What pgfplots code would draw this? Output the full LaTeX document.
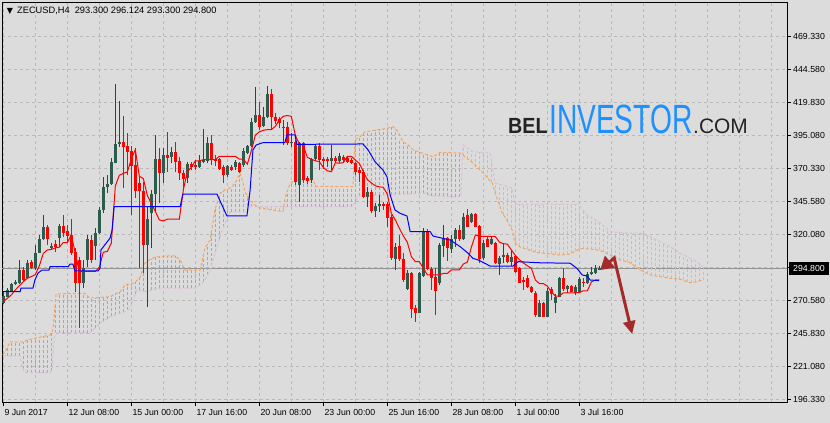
\documentclass[border=0pt]{standalone}
\usepackage{pgfplots}
\pgfplotsset{compat=1.18}
\usepackage{pgfplotstable}
\usetikzlibrary{arrows.meta}
\usepackage{graphicx}
\usepackage{fontspec}
\setmainfont{Liberation Sans}
\newfontfamily\dejavu{DejaVu Sans}
\definecolor{bg}{RGB}{220,220,220}
\definecolor{gridc}{RGB}{186,186,186}
\definecolor{bull}{RGB}{45,92,78}
\definecolor{bullwick}{RGB}{40,70,68}
\definecolor{senA}{RGB}{244,164,96}
\definecolor{hatchAc}{RGB}{240,150,75}
\definecolor{senB}{RGB}{216,191,216}
\definecolor{hatchBc}{RGB}{210,180,212}
\definecolor{arrowc}{RGB}{165,42,42}
\definecolor{logoblue}{RGB}{30,144,255}
\definecolor{logodark}{RGB}{35,35,35}

\pgfplotstableread{
i o h l c
0 268.8 276.9 267.8 273.9
1 273.3 279.9 273.1 278.4
2 277.8 283.9 276.9 282.9
3 282.7 285.9 282.1 284.6
4 283.9 301.0 282.9 293.4
6 287.2 301.0 286.4 298.9
8 295.2 312.3 293.4 306.4
9 306.4 319.8 306.0 316.5
10 316.5 334.8 316.0 325.6
12 309.8 313.5 308.5 311.7
14 317.7 328.1 311.0 326.8
20 283.9 301.0 279.9 294.7
21 301.0 319.8 295.9 316.5
23 311.5 324.8 301.0 321.1
24 321.1 341.1 320.5 338.6
25 338.6 363.7 336.1 355.7
26 355.7 364.9 351.2 358.2
27 358.2 377.5 357.4 374.9
28 374.2 433.4 373.7 388.3
29 388.3 420.9 386.2 389.8
36 312.3 341.1 265.8 331.8
37 336.6 353.6 309.8 350.6
38 350.6 395.0 337.3 377.0
40 366.2 385.0 358.7 380.0
42 378.3 386.2 373.7 382.5
46 362.5 374.9 358.7 373.2
49 370.7 380.0 370.0 375.5
50 375.0 399.3 373.7 376.2
51 375.5 393.8 373.7 389.3
56 364.9 372.5 363.7 371.7
58 370.7 376.2 368.7 374.9
60 372.5 385.3 371.2 383.0
61 381.7 387.5 380.7 386.8
62 386.8 407.6 386.2 404.6
63 404.6 431.0 403.9 410.1
65 402.1 415.9 401.3 408.4
66 408.4 431.9 407.6 425.9
70 400.1 406.3 387.5 401.3
72 388.8 396.3 386.2 390.0
74 357.4 390.0 344.8 389.0
77 361.2 377.5 359.1 376.8
78 376.8 387.5 375.7 386.8
82 375.7 387.5 368.7 377.5
84 375.7 381.8 373.7 379.3
91 348.6 356.1 341.1 352.4
93 337.8 344.1 333.5 341.6
94 341.6 349.9 337.3 343.1
98 301.5 313.5 293.4 311.0
101 279.1 293.4 278.4 290.9
104 261.3 291.9 260.8 290.9
105 289.1 324.8 288.4 322.3
109 283.4 313.8 282.1 312.3
110 311.5 327.3 303.0 317.3
112 309.0 319.8 306.0 316.5
113 316.5 324.8 311.0 323.5
115 316.5 336.1 316.0 333.6
117 329.8 336.6 329.0 335.6
120 302.2 316.0 301.0 314.0
122 313.0 319.0 312.3 316.8
124 297.9 304.0 289.7 302.2
125 303.0 313.5 298.5 304.7
127 299.7 308.5 296.4 303.0
134 258.3 270.8 257.8 268.8
136 258.3 279.6 258.3 277.8
138 268.8 275.4 260.8 272.9
139 273.3 288.4 272.9 287.2
141 278.9 282.1 275.9 281.4
143 275.9 282.1 274.6 280.4
144 277.1 287.9 276.3 286.4
146 283.4 292.1 282.9 290.4
147 290.4 295.9 289.7 292.1
148 291.4 297.2 290.4 294.7
149 293.3 296.1 293.3 294.8
}\bulltab

\pgfplotstableread{
i o h l c
5 293.4 295.7 285.4 285.9
7 299.7 301.0 293.9 295.2
11 326.0 327.3 312.3 316.5
13 312.8 316.0 307.0 311.0
15 326.8 334.8 318.5 321.5
16 322.8 327.3 313.5 319.2
17 319.8 331.6 304.7 306.4
18 307.2 309.8 277.1 283.9
19 301.0 303.4 249.8 283.9
22 316.0 319.8 298.9 301.0
30 389.8 409.4 354.9 386.2
31 386.8 396.3 364.9 382.5
32 383.2 386.8 334.8 371.7
33 372.5 385.0 347.4 353.1
34 358.7 363.7 294.7 353.1
35 353.1 359.9 290.9 312.3
39 377.0 385.0 343.6 366.2
41 380.0 397.5 367.4 377.5
43 382.5 390.0 367.4 374.5
44 375.5 378.7 361.2 366.2
45 366.2 368.7 353.6 361.7
47 373.2 374.9 368.7 370.7
48 372.5 376.2 368.7 370.7
52 389.3 395.0 372.5 376.2
53 376.8 380.0 371.7 375.3
54 377.0 377.8 368.7 369.2
55 370.7 372.5 358.7 364.9
57 371.2 372.5 368.2 368.7
59 373.7 374.9 366.2 367.4
64 410.1 420.1 398.8 401.3
67 425.9 429.5 399.3 408.8
68 408.8 411.6 403.3 405.8
69 407.1 408.8 400.1 403.9
71 401.3 405.1 387.5 388.8
73 390.0 391.3 357.4 359.7
75 389.3 390.0 358.7 361.2
76 362.7 364.2 358.2 360.7
79 386.8 389.3 368.7 376.2
80 377.0 378.7 369.2 375.7
81 377.0 378.7 371.2 375.7
83 377.5 379.3 374.0 375.7
85 378.7 380.0 374.2 376.2
86 377.5 378.5 374.0 375.0
87 376.2 377.8 373.2 374.2
88 374.2 374.9 364.9 367.4
89 368.7 371.2 359.9 366.7
90 367.4 368.7 347.4 348.6
92 352.4 353.6 336.1 337.8
95 343.1 344.6 338.6 341.6
96 343.1 344.8 326.0 332.8
97 333.1 334.8 301.0 302.2
99 311.7 319.8 300.4 301.5
100 301.5 306.0 284.6 285.9
102 290.9 292.1 257.1 264.1
103 264.6 267.1 254.5 261.3
106 322.3 324.1 293.4 294.0
107 294.0 295.9 278.4 287.6
108 288.4 294.7 259.6 277.6
111 317.3 318.5 300.4 309.8
114 323.5 327.3 315.5 316.5
116 334.8 339.1 325.6 326.0
118 335.6 336.1 325.6 326.0
119 326.5 327.3 298.5 301.5
121 316.5 318.5 310.5 311.0
123 313.5 314.7 298.0 298.5
126 304.7 306.0 298.5 299.7
128 304.0 304.7 290.9 292.1
129 294.7 295.9 283.4 283.9
130 285.9 287.9 278.4 284.6
131 287.2 289.7 279.6 280.4
132 280.4 281.4 275.9 277.1
133 276.3 277.8 258.3 259.6
135 268.8 269.6 257.8 258.3
137 278.9 280.4 270.8 275.4
140 287.2 294.7 277.8 278.9
142 281.4 282.1 276.9 277.1
145 284.6 287.2 280.9 283.4
}\beartab

\pgfplotstableread{
i p
0 269.6
1 272.1
2 274.6
3 278.4
4 281.5
5 284.6
6 287.2
7 288.5
8 290.0
9 296.5
10 305.9
11 308.5
12 308.9
13 310.1
14 310.6
15 314.1
16 314.1
17 319.8
18 306.0
19 292.3
20 292.3
21 292.3
22 292.3
23 292.3
24 295.5
25 306.8
26 307.4
27 313.7
28 356.7
29 364.7
30 366.2
31 367.2
32 377.0
33 384.1
34 364.1
35 362.2
36 349.6
37 343.4
38 337.6
39 331.1
40 330.4
41 331.7
42 331.7
43 331.7
44 331.7
45 353.7
46 367.4
47 370.6
48 375.6
49 375.6
50 376.5
51 376.5
52 376.5
53 376.5
54 379.0
55 379.0
56 379.0
57 379.0
58 379.0
59 376.9
60 376.9
61 373.1
62 383.2
63 394.9
64 397.4
65 398.6
66 399.1
67 399.1
68 401.6
69 406.3
70 409.1
71 409.7
72 409.1
73 394.7
74 388.4
75 387.2
76 378.2
77 376.8
78 375.6
79 375.0
80 370.6
81 368.1
82 367.4
83 374.1
84 373.8
85 374.2
86 379.0
87 379.0
88 376.2
89 373.7
90 367.5
91 361.5
92 359.0
93 356.8
94 356.0
95 355.7
96 350.5
97 336.1
98 331.1
99 324.8
100 319.1
101 314.2
102 303.5
103 299.7
104 299.7
105 294.7
106 289.7
107 289.7
108 289.7
109 289.7
110 290.9
111 290.9
112 293.5
113 293.5
114 293.5
115 297.9
116 299.4
117 310.6
118 319.8
119 318.8
120 318.8
121 318.8
122 318.8
123 318.6
124 314.4
125 313.2
126 312.9
127 308.5
128 304.4
129 301.2
130 298.7
131 296.6
132 294.7
133 285.9
134 283.2
135 283.2
136 281.3
137 276.9
138 273.8
139 273.8
140 276.3
141 276.3
142 276.3
143 276.3
144 276.5
145 277.8
146 277.8
147 284.4
148 285.9
149 285.9
}\tenkan

\pgfplotstableread{
i p
-0.1 277.1
4.2 277.1
4.4 279.7
7.4 279.7
7.9 285.9
8.7 291.2
9.7 293.4
11.4 293.4
11.7 295.9
16.2 295.9
16.7 297.9
17.4 297.9
17.9 292.7
23.7 292.7
24.2 294.9
24.4 308.5
26.7 317.5
27.2 323.5
27.7 341.1
44.2 341.1
44.9 350.6
53.4 350.6
55.9 334.1
60.9 334.1
61.7 353.6
62.4 383.8
63.2 387.5
64.9 389.3
70.4 389.3
70.9 395.1
72.9 395.1
73.4 388.0
89.9 388.3
91.2 383.8
92.9 375.0
94.9 368.7
95.9 363.7
96.7 349.9
97.9 338.6
99.2 336.1
100.9 334.1
101.7 322.3
106.7 322.3
107.4 319.0
111.7 316.0
114.2 311.0
116.2 306.0
117.4 302.2
118.7 301.0
121.7 296.4
127.4 296.4
128.7 299.7
133.7 298.9
141.7 298.5
143.4 294.7
144.7 289.7
145.9 288.9
146.7 285.9
148.9 285.4
}\kijun

\pgfplotstableread{
i p
-0.1 229.4
0.4 231.9
1.7 239.4
5.4 239.4
5.9 240.7
7.9 242.0
11.7 244.5
12.4 248.3
13.2 275.4
20.4 275.9
21.2 273.3
21.7 272.3
26.7 273.3
27.9 275.4
29.2 277.1
30.4 282.1
32.9 283.9
34.2 288.2
35.4 298.5
36.7 301.5
37.9 303.0
40.4 304.0
42.9 304.0
44.2 301.0
45.4 293.4
49.2 293.4
50.4 309.8
51.7 316.0
52.9 338.6
54.2 351.2
55.4 353.6
57.2 356.1
58.4 361.2
59.2 366.2
59.9 358.9
60.4 352.4
61.7 346.1
62.9 342.4
64.2 340.1
69.9 337.3
70.4 347.4
71.7 358.7
72.9 361.2
77.4 361.2
78.2 356.1
87.4 356.1
87.9 391.3
89.2 393.8
90.4 397.5
93.4 398.8
95.9 400.1
97.4 401.3
98.7 397.5
99.9 390.0
101.2 387.5
102.4 383.8
104.9 381.3
107.4 378.7
109.2 381.9
114.2 381.5
117.4 374.0
119.9 366.5
122.2 358.9
122.9 352.1
124.7 336.3
125.9 331.1
127.2 323.5
127.9 313.7
129.2 310.7
133.4 306.6
139.2 304.7
141.7 305.5
144.2 309.6
146.7 309.2
149.2 308.1
151.7 304.7
154.2 301.0
156.7 298.9
159.2 293.4
161.7 289.7
164.2 288.4
166.7 287.2
169.2 286.4
171.7 283.9
172.9 284.4
174.9 285.9
}\senkouA

\pgfplotstableread{
i p
-0.1 228.7
4.2 228.7
4.7 221.2
5.4 216.1
11.7 216.1
12.2 218.2
12.7 240.7
12.9 246.2
21.7 246.2
22.9 249.5
24.2 253.3
26.7 258.3
30.4 262.0
31.7 264.6
33.4 278.4
35.4 277.1
39.2 279.7
47.9 279.7
49.2 282.1
50.4 285.9
51.7 293.4
52.9 306.0
54.7 323.5
56.7 337.1
60.9 337.1
61.7 341.1
87.4 341.1
88.7 349.1
105.9 351.2
106.7 349.4
112.9 348.6
114.4 348.6
114.9 387.5
116.7 383.8
117.4 382.3
121.7 381.5
122.9 358.9
127.2 355.2
127.9 343.1
143.7 343.1
145.9 334.8
149.2 328.8
151.7 322.3
156.7 321.1
159.2 321.1
161.7 318.5
164.2 314.7
166.7 311.0
169.2 306.0
171.7 302.2
173.4 299.7
174.9 295.9
}\senkouB

\pgfplotstableread{
i lo hi
0 228.7 230.4
1 228.7 235.4
2 228.7 239.4
3 228.7 239.4
4 228.7 239.4
5 219.0 239.4
6 216.1 240.8
7 216.1 241.4
8 216.1 242.1
9 216.1 242.7
10 216.1 243.4
11 216.1 244.0
12 217.4 246.1
13 246.2 268.6
14 246.2 275.5
15 246.2 275.6
16 246.2 275.6
17 246.2 275.7
18 246.2 275.8
19 246.2 275.8
20 246.2 275.9
21 246.2 274.0
22 247.0 272.4
23 249.8 272.6
24 252.7 272.8
25 254.9 273.0
26 256.9 273.2
27 258.5 273.8
28 259.7 275.5
29 260.6 276.8
30 261.6 280.4
31 263.2 282.5
32 267.1 283.2
33 275.2 284.2
34 278.0 287.5
35 277.4 295.1
36 277.3 299.9
37 278.0 301.6
38 278.6 303.0
39 279.6 303.4
40 279.7 303.8
41 279.7 304.0
42 279.7 304.0
43 279.7 304.0
44 279.7 301.5
45 279.7 295.9
46 279.7 293.4
47 279.7 293.4
48 280.0 293.4
49 281.7 293.4
50 284.6 304.3
51 289.9 312.7
52 296.5 321.7
53 306.9 339.6
54 316.7 349.3
55 325.5 352.8
56 332.3 354.4
57 337.1 355.8
58 337.1 359.5
59 337.1 364.9
60 337.1 351.6
61 337.6 349.5
62 341.1 345.2
63 341.1 342.2
71 341.1 352.6
72 341.1 359.3
73 341.1 361.2
74 341.1 361.2
75 341.1 361.2
76 341.1 361.2
77 341.1 361.2
78 341.1 357.4
79 341.1 356.1
80 341.1 356.1
81 341.1 356.1
82 341.1 356.1
83 341.1 356.1
84 341.1 356.1
85 341.1 356.1
86 341.1 356.1
87 341.1 356.1
88 344.8 391.5
89 349.1 393.4
90 349.2 396.3
91 349.4 397.8
92 349.5 398.2
93 349.6 398.6
94 349.7 399.1
95 349.9 399.6
96 350.0 400.2
97 350.1 401.0
98 350.2 399.5
99 350.4 390.6
100 350.5 389.8
101 350.6 387.9
102 350.7 384.5
103 350.9 383.2
104 351.0 382.2
105 351.1 381.2
106 349.6 380.0
107 349.2 378.9
108 349.1 379.8
109 349.0 381.5
110 348.9 381.8
111 348.8 381.8
112 348.7 381.7
113 348.6 381.6
114 348.6 381.5
}\hatchA

\pgfplotstableread{
i lo hi
64 340.2 341.1
65 339.7 341.1
66 339.2 341.1
67 338.7 341.1
68 338.2 341.1
69 337.7 341.1
70 339.3 341.1
115 379.6 387.3
116 377.3 385.3
117 374.9 383.1
118 371.2 382.2
119 369.2 382.0
120 366.2 381.8
121 362.9 381.6
122 359.6 374.8
123 351.2 358.8
124 342.5 358.0
125 334.9 357.1
126 330.5 356.2
127 324.7 355.3
128 313.5 343.1
129 311.2 343.1
130 309.9 343.1
131 308.9 343.1
132 308.0 343.1
133 307.0 343.1
134 306.4 343.1
135 306.1 343.1
136 305.7 343.1
137 305.4 343.1
138 305.1 343.1
139 304.8 343.1
140 305.0 343.1
141 305.3 343.1
142 306.5 343.1
143 308.0 343.1
144 309.4 341.7
145 309.5 338.1
146 309.3 334.6
147 309.1 332.8
148 308.6 331.0
149 308.2 329.1
150 307.0 326.4
151 305.6 323.8
152 304.4 322.2
153 302.8 322.0
154 301.2 321.7
155 300.3 321.5
156 299.5 321.3
157 298.2 321.1
158 296.0 321.1
159 293.8 321.1
160 292.2 320.3
161 290.7 319.2
162 289.5 318.0
163 289.0 316.7
164 288.5 315.0
165 288.0 313.5
166 287.5 312.0
167 287.1 310.4
168 286.8 308.4
169 286.5 306.4
170 285.6 304.4
171 284.6 303.3
172 284.0 301.7
173 284.5 300.3
174 285.2 298.2
175 285.9 295.9
}\hatchB

\begin{document}
\begin{tikzpicture}
\fill[bg] (0bp,0bp) rectangle (830bp,423bp);
\path[use as bounding box] (0bp,0bp) rectangle (830bp,423bp);
\begin{axis}[
  at={(2bp,21bp)}, anchor=south west,
  width=785bp, height=399bp, scale only axis,
  xmin=-0.325, xmax=195.9, ymin=194.06, ymax=494.42,
  axis line style={black, line width=1bp},
  axis background/.style={fill=bg},
  tick align=outside,
  major tick length=4bp,
  minor tick length=0bp,
  xtick pos=bottom, ytick pos=right,
  yticklabel pos=right,
  xtick={0,16,32,48,64,80,96,112,128,144},
  xticklabels={9 Jun 2017,12 Jun 08:00,15 Jun 00:00,17 Jun 16:00,20 Jun 08:00,23 Jun 00:00,25 Jun 16:00,28 Jun 08:00,1 Jul 00:00,3 Jul 16:00},
  minor xtick={8,24,40,56,72,88,104,120,136,152,160,168,176,184,192},
  ytick={196.33,221.15,245.97,270.78,295.60,320.42,345.24,370.06,394.88,419.69,444.51,469.33},
  yticklabels={196.330,221.080,245.830,270.580,,320.080,345.580,370.330,395.080,419.830,444.580,469.330},
  xmajorgrids, xminorgrids, ymajorgrids,
  major grid style={gridc, dash pattern=on 3bp off 3bp, line width=0.8bp},
  minor grid style={gridc, dash pattern=on 3bp off 3bp, line width=0.8bp},
  major tick style={black, line width=0.8bp},
  ticklabel style={font=\fontsize{8.8}{10}\selectfont, text=black},
  xticklabel style={anchor=north west, inner sep=0pt, xshift=1bp, yshift=-3bp},
  yticklabel style={anchor=west, inner sep=0pt, xshift=2bp},
]
% price line
\addplot[color=gray!85, line width=0.8bp, forget plot] coordinates {(-1,294.8) (197,294.8)};
% cloud hatching
\addplot[hatchAc, line width=1.2bp, dash pattern=on 3bp off 2bp, forget plot,
  quiver={u=0, v=\thisrow{hi}-\thisrow{lo}}] table[x=i, y=lo] \hatchA;
\addplot[hatchBc, line width=1.2bp, dash pattern=on 3bp off 2bp, forget plot,
  quiver={u=0, v=\thisrow{hi}-\thisrow{lo}}] table[x=i, y=lo] \hatchB;
\addplot[senB, line width=1bp, dash pattern=on 3bp off 2bp, forget plot] table[x=i,y=p] \senkouB;
\addplot[senA, line width=1bp, dash pattern=on 3bp off 2bp, forget plot] table[x=i,y=p] \senkouA;
% candles
\addplot[bullwick, line width=1bp, forget plot, quiver={u=0, v=\thisrow{h}-\thisrow{l}}] table[x=i, y=l] \bulltab;
\addplot[bull, line width=3bp, forget plot, quiver={u=0, v=\thisrow{c}-\thisrow{o}}] table[x=i, y=o] \bulltab;
\addplot[red, line width=1bp, forget plot, quiver={u=0, v=\thisrow{h}-\thisrow{l}}] table[x=i, y=l] \beartab;
\addplot[red, line width=3bp, forget plot, quiver={u=0, v=\thisrow{c}-\thisrow{o}}] table[x=i, y=o] \beartab;
% tenkan & kijun
\addplot[red, line width=1bp, forget plot] table[x=i,y=p] \tenkan;
\addplot[blue, line width=1bp, forget plot] table[x=i,y=p] \kijun;
% arrow annotation
\draw[arrowc, line width=3bp, {Triangle[length=13bp,width=15bp]}-{Triangle[length=13bp,width=12bp]}]
  (axis cs:149.2,293.4) -- (axis cs:152.7,302.5) -- (axis cs:157.2,245.2);
\end{axis}
% title
\node[anchor=center, inner sep=0pt, font=\dejavu\fontsize{8}{9}\selectfont] at (10bp,411.5bp) {▼};
\node[anchor=base west, inner sep=0pt, font=\fontsize{9.3}{10}\selectfont] at (17bp,409bp) {ZECUSD,H4\ \ 293.300 296.124 293.300 294.800};
% current price label
\node[fill=black, text=white, inner sep=0pt, minimum width=40bp, minimum height=13bp, font=\fontsize{8.8}{10}\selectfont] at (809bp,154.8bp) {294.800};
% logo
\node[anchor=base west, inner sep=0pt, text=logodark, font=\bfseries\fontsize{22}{24}\selectfont] at (508bp,289bp) {\scalebox{0.9}[1]{BEL}};
\node[anchor=base west, inner sep=0pt, text=logoblue, font=\fontsize{41}{45}\selectfont] at (549bp,289bp) {\scalebox{0.69}[1]{INVESTOR}};
\node[anchor=base west, inner sep=0pt, text=logodark, font=\fontsize{21}{23}\selectfont] at (693bp,289bp) {.COM};
\end{tikzpicture}
\end{document}
